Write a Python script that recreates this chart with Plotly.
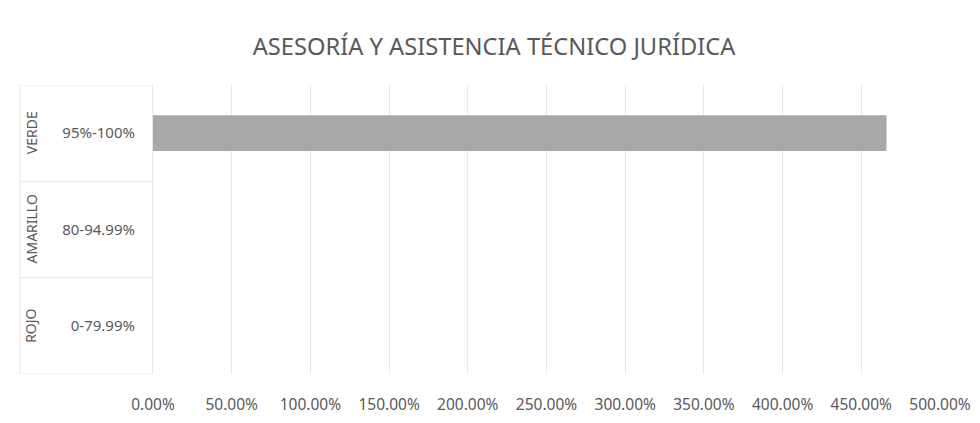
import plotly.graph_objects as go

# datos
grupos = ["ROJO", "AMARILLO", "VERDE"]
rangos = ["0-79.99%", "80-94.99%", "95%-100%"]
valores = [None, None, 4.66]
ticks_x = [0, 0.5, 1.0, 1.5, 2.0, 2.5, 3.0, 3.5, 4.0, 4.5, 5.0]

TEXTO = "#595959"
LINEA = "#e8e8e8"
FUENTE = "Noto Sans"

fig = go.Figure(go.Bar(
    x=valores, y=rangos, orientation="h", width=0.37,
    marker=dict(color="#a6a9a7", line=dict(width=0)),
    hoverinfo="x+y",
))

# etiquetas del nivel exterior (rotadas) y separadores
for i, g in enumerate(grupos):
    fig.add_annotation(
        x=-0.155, y=i, xref="paper", yref="y", text=g, textangle=-90,
        xanchor="center", yanchor="middle",
        showarrow=False, font=dict(family=FUENTE, size=14, color=TEXTO),
    )
for b in [-0.5, 0.5, 1.5, 2.5]:
    fig.add_shape(type="line", xref="paper", yref="y", x0=-0.169, x1=0, y0=b, y1=b,
                  line=dict(color=LINEA, width=1))
fig.add_shape(type="line", xref="paper", yref="y", x0=-0.169, x1=-0.169, y0=-0.5, y1=2.5,
              line=dict(color=LINEA, width=1))

# la página deja 8 px de margen, se compensa aquí
fig.update_layout(
    title=dict(text="ASESORÍA Y ASISTENCIA TÉCNICO JURÍDICA", x=0.5, xanchor="center",
               y=1 - 39 / 415, yanchor="middle", yref="container",
               font=dict(family=FUENTE, size=23.7, color=TEXTO)),
    width=972, height=415,
    margin=dict(l=145, r=40, t=77, b=49),
    paper_bgcolor="white", plot_bgcolor="white",
    showlegend=False,
    bargap=0.63,
    xaxis=dict(range=[0, 5], tickvals=ticks_x, tickformat=".2%", automargin=False,
               showgrid=True, gridcolor=LINEA, gridwidth=1, zeroline=False,
               showline=False, ticks="outside", ticklen=16, tickcolor="rgba(0,0,0,0)",
               tickfont=dict(family=FUENTE, size=15.5, color=TEXTO), fixedrange=True),
    yaxis=dict(categoryorder="array", categoryarray=rangos, range=[-0.5, 2.5],
               automargin=False,
               showgrid=False, zeroline=False, showline=True, linecolor=LINEA,
               ticks="outside", ticklen=14, tickcolor="rgba(0,0,0,0)",
               tickfont=dict(family=FUENTE, size=15, color=TEXTO), fixedrange=True),
)

fig.write_html("out.html")
